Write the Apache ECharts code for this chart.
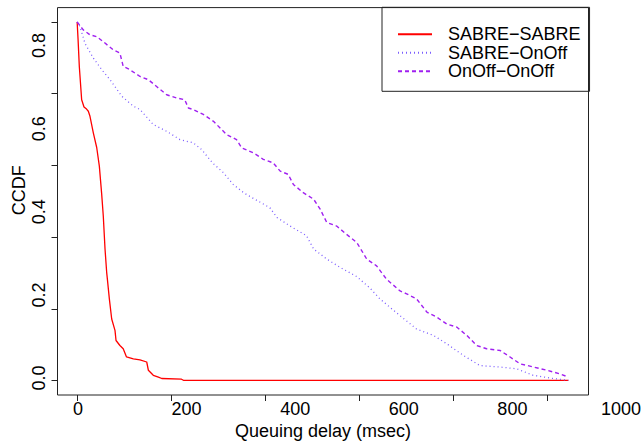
<!DOCTYPE html>
<html>
<head>
<meta charset="utf-8">
<script src="https://cdn.jsdelivr.net/npm/echarts@6/dist/echarts.min.js"></script>
<style>
  html, body { margin: 0; padding: 0; background: #fff; }
  #main { width: 644px; height: 445px; }
</style>
</head>
<body>
<div id="main"></div>
<script>
// series names (legend)
const seriesNames = ['SABRE\u2212SABRE', 'SABRE\u2212OnOff', 'OnOff\u2212OnOff'];

// [delay (msec), CCDF]
const sabreSabre = [
  [0, 1.0], [2, 0.95], [4.6, 0.876], [9.6, 0.783], [14.6, 0.763], [20, 0.757], [23.8, 0.751],
  [27.3, 0.737], [34.4, 0.691], [41.6, 0.65], [47.2, 0.598], [52.2, 0.52], [55.6, 0.459],
  [59.3, 0.367], [62.8, 0.302], [64.3, 0.283], [68.5, 0.228], [73.5, 0.172], [80.5, 0.14],
  [82.7, 0.112], [91, 0.098], [98, 0.089], [105, 0.066], [119.6, 0.061], [133.7, 0.058],
  [148, 0.052], [151.5, 0.029], [162, 0.015], [172.8, 0.01], [180, 0.006], [222, 0.004],
  [226, 0.001], [1045, 0.001]
];
const sabreOnOff = [
  [0, 1.0], [6, 0.987], [16.7, 0.94], [34.6, 0.899], [52.2, 0.867], [69.9, 0.839], [94.8, 0.793],
  [119.6, 0.765], [133.7, 0.756], [162, 0.714], [190.5, 0.695], [218.8, 0.672], [247, 0.663],
  [265, 0.644], [288, 0.607], [311, 0.58], [332, 0.547], [354, 0.524], [375, 0.508], [410, 0.482],
  [425, 0.455], [453, 0.431], [488, 0.404], [503, 0.367], [531, 0.339], [559, 0.316], [595, 0.29],
  [623, 0.258], [644, 0.228], [665, 0.205], [687, 0.181], [722, 0.144], [758, 0.126], [786, 0.103],
  [822, 0.07], [857, 0.042], [900, 0.038], [935, 0.033], [970, 0.015], [1013, 0.006], [1045, 0.001]
];
const onOffOnOff = [
  [0, 1.0], [13, 0.978], [27.3, 0.964], [41.6, 0.959], [55.6, 0.945], [77, 0.922], [91, 0.913],
  [98, 0.876], [112, 0.867], [133.7, 0.848], [151.5, 0.839], [169, 0.82], [190.5, 0.797],
  [211.7, 0.788], [229, 0.783], [236.6, 0.76], [247, 0.756], [268.5, 0.742], [290, 0.723],
  [318, 0.686], [339, 0.672], [350, 0.649], [375, 0.635], [396, 0.617], [417, 0.607], [432, 0.584],
  [449, 0.575], [460, 0.547], [481, 0.524], [503, 0.506], [517, 0.478], [531, 0.441], [552, 0.431],
  [573, 0.408], [595, 0.385], [616, 0.339], [637, 0.32], [658, 0.283], [687, 0.25], [701, 0.242],
  [722, 0.228], [744, 0.191], [765, 0.177], [786, 0.158], [808, 0.149], [829, 0.126], [850, 0.098],
  [871, 0.089], [900, 0.084], [921, 0.066], [942, 0.047], [971, 0.038], [999, 0.029], [1027, 0.019],
  [1045, 0.01]
];

// tick marks on the plot box, and the tick labels (drawn on their own, larger scale)
const xTicks = [0, 200, 400, 600, 800, 1000];
const yTicks = [0, 0.2, 0.4, 0.6, 0.8, 1.0];
const xTickLabels = [0, 200, 400, 600, 800, 1000];
const yTickLabels = [0, 0.2, 0.4, 0.6, 0.8];

const font = 'Liberation Sans, Arial, Helvetica, sans-serif';
const chart = echarts.init(document.getElementById('main'), null, {renderer: 'svg'});

chart.setOption({
  animation: false,
  backgroundColor: '#fff',
  textStyle: {fontFamily: font, color: '#000'},
  grid: [
    {left: 57.5, top: 7.6, width: 531, height: 388.8, show: true,
      borderColor: '#222', borderWidth: 1, backgroundColor: 'transparent'},
    {left: 78, right: 21, top: 45.5, bottom: 67, show: false}
  ],
  xAxis: [
    {
      type: 'value', gridIndex: 0, min: -41.8, max: 1087.8,
      name: 'Queuing delay (msec)', nameLocation: 'middle', nameGap: 27,
      nameTextStyle: {fontSize: 18, color: '#000', fontFamily: font},
      axisLine: {show: false, onZero: false},
      axisTick: {show: true, customValues: xTicks, length: 6, lineStyle: {color: '#222'}},
      axisLabel: {show: false},
      splitLine: {show: false}
    },
    {
      type: 'value', gridIndex: 1, min: 0, max: 1000, interval: 200,
      axisLine: {show: false, onZero: false}, axisTick: {show: false}, splitLine: {show: false},
      axisLabel: {customValues: xTickLabels, fontSize: 18, color: '#000', margin: 22, fontFamily: font,
        formatter: v => String(v)}
    }
  ],
  yAxis: [
    {
      type: 'value', gridIndex: 0, min: -0.04, max: 1.04,
      name: 'CCDF', nameLocation: 'middle', nameGap: 30,
      nameTextStyle: {fontSize: 18, color: '#000', fontFamily: font, padding: [0, 0, 0, 22]},
      axisLine: {show: false, onZero: false},
      axisTick: {show: true, customValues: yTicks, length: 6, lineStyle: {color: '#222'}},
      axisLabel: {show: false},
      splitLine: {show: false}
    },
    {
      type: 'value', gridIndex: 1, min: 0, max: 0.8, interval: 0.2,
      axisLine: {show: false, onZero: false}, axisTick: {show: false}, splitLine: {show: false},
      axisLabel: {customValues: yTickLabels, rotate: 90, fontSize: 18, color: '#000', margin: 30,
        fontFamily: font, formatter: v => v.toFixed(1)}
    }
  ],
  legend: {
    orient: 'vertical', left: 382, top: 7.3,
    padding: [18, 9, 11, 15],
    borderColor: '#222', borderWidth: 1,
    itemWidth: 34, itemHeight: 14, itemGap: 0.5,
    itemStyle: {opacity: 0},
    textStyle: {fontSize: 18, color: '#000', fontFamily: font, padding: [0, 0, 0, 11]},
    data: seriesNames
  },
  series: [
    {name: seriesNames[0], type: 'line', data: sabreSabre, showSymbol: false, symbol: 'none',
      xAxisIndex: 0, yAxisIndex: 0, lineStyle: {color: '#ff0000', width: 1.3}, itemStyle: {color: '#ff0000'}},
    {name: seriesNames[1], type: 'line', data: sabreOnOff, showSymbol: false, symbol: 'none',
      xAxisIndex: 0, yAxisIndex: 0, lineStyle: {color: '#7b5cff', width: 1.3, type: [1, 3]}, itemStyle: {color: '#7b5cff'}},
    {name: seriesNames[2], type: 'line', data: onOffOnOff, showSymbol: false, symbol: 'none',
      xAxisIndex: 0, yAxisIndex: 0, lineStyle: {color: '#a020f0', width: 1.4, type: [4, 3]}, itemStyle: {color: '#a020f0'}}
  ]
});
</script>
</body>
</html>
